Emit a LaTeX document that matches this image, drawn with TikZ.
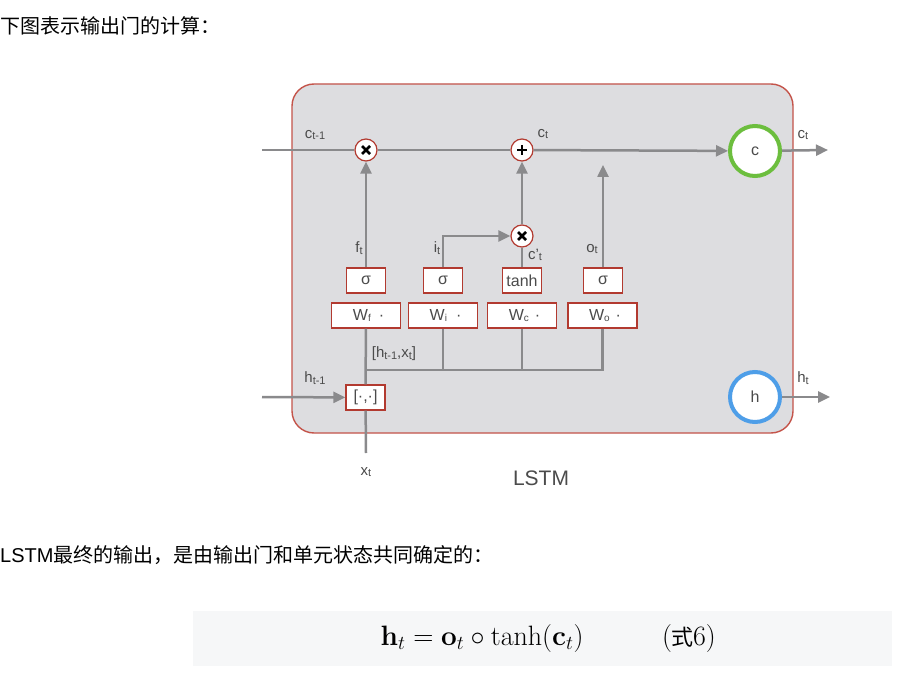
\RequirePackage{fix-cm}
\documentclass[tikz,border=0pt]{standalone}
\usepackage[no-math]{fontspec}
\setmainfont{Liberation Sans}
\newfontfamily\cjk{Noto Sans CJK SC}
\usetikzlibrary{arrows.meta}
\definecolor{bxfill}{RGB}{221,221,224}
\definecolor{bxline}{RGB}{196,84,74}
\definecolor{gline}{RGB}{138,138,140}
\definecolor{gate}{RGB}{178,58,48}
\definecolor{lbl}{RGB}{75,75,75}
\definecolor{grn}{RGB}{108,190,62}
\definecolor{blu}{RGB}{78,158,232}
\definecolor{eqbg}{RGB}{246,247,248}
\newcommand\lsub[1]{\raisebox{-1.5pt}{\fontsize{11}{11}\selectfont #1}}
\newcommand\wsub[1]{\raisebox{-1pt}{\fontsize{10}{10}\selectfont #1}}
\begin{document}
\begin{tikzpicture}[x=1pt,y=-1pt,
  conn/.style={draw=gline, line width=2.5pt},
  arr/.style={conn, -{Triangle[length=12pt,width=11pt]}},
  opc/.style={circle, draw=gate, line width=1.2pt, fill=white, minimum size=22pt, inner sep=0pt},
  sym/.style={line width=2.8pt, black},
  sbox/.style={draw=gate, line width=1.3pt, fill=white, minimum width=39pt, minimum height=25pt, inner sep=0pt, font=\fontsize{16}{16}\selectfont, text=lbl},
  wbox/.style={sbox, minimum width=69pt},
  state/.style={circle, line width=4pt, fill=white, minimum size=50pt, inner sep=0pt, font=\fontsize{16}{16}\selectfont, text=lbl},
  lab/.style={font=\fontsize{15}{15}\selectfont, text=lbl, inner sep=0pt},
  cjkline/.style={anchor=west, inner sep=0pt, font=\fontsize{20}{20}\selectfont},
  eqtext/.style={inner sep=0pt, font=\fontsize{28}{32}\selectfont},
]
\useasboundingbox (0,0) rectangle (905,695);
\fill[white] (0,0) rectangle (905,695);

% texts
\node[cjkline] (t1) at (0,26) {\cjk 下图表示输出门的计算：};
\node[cjkline] (t2) at (0,555) {LSTM{\cjk 最终的输出，是由输出门和单元状态共同确定的：}};

% equation
\fill[eqbg] (193,611) rectangle (892,666);
\node[eqtext] (eq) at (482,638) {$\mathbf{h}_t = \mathbf{o}_t \circ \tanh(\mathbf{c}_t)$};
\node[eqtext] (eqn) at (689,638) {$($\kern-1pt{\cjk\fontsize{22}{22}\selectfont 式}$6)$};

% main box
\draw[fill=bxfill, draw=bxline, line width=1.4pt, rounded corners=22pt] (292,84) rectangle (793,433);

% coordinates
\coordinate (cin) at (262,150);
\coordinate (cout) at (828,150);
\coordinate (hin) at (262,397);
\coordinate (hout) at (830,397);
\coordinate (xin) at (366,453);
\coordinate (oend) at (603,165);
\coordinate (busl) at (366,370);

% nodes
\node[opc] (mulf) at (366,150) {};
\node[opc] (add) at (522,150) {};
\node[opc] (muli) at (522,236) {};
\node[state, draw=grn] (cn) at (755,151) {c};
\node[state, draw=blu] (hn) at (755,397) {h};

\node[sbox] (sf) at (366,280.5) {σ};
\node[sbox] (si) at (443,280.5) {σ};
\node[sbox] (st) at (522,280.5) {tanh};
\node[sbox] (so) at (603,280.5) {σ};

\node[wbox] (wf) at (366,315.5) {\hspace{5pt}W\wsub{f}\hspace{8pt}·};
\node[wbox] (wi) at (443,315.5) {\hspace{5pt}W\wsub{i}\hspace{9pt}·};
\node[wbox] (wc) at (522,315.5) {\hspace{5pt}W\wsub{c}\hspace{6pt}·};
\node[wbox] (wo) at (602.5,315.5) {\hspace{5pt}W\wsub{o}\hspace{6pt}·};

\node[sbox] (cat) at (365.5,397.5) {[·,·]};

% connectors
\draw[conn] (cin) -- (mulf);
\draw[conn] (mulf) -- (add);
\draw[arr] (add) -- (cn);
\draw[arr] (cn) -- (cout);
\draw[arr] (sf) -- (mulf);
\draw[arr] (si) |- (muli);
\draw[conn] (st) -- (muli);
\draw[arr] (muli) -- (add);
\draw[arr] (so) -- (oend);
\draw[conn] (wf) -- (cat);
\draw[conn] (wo) |- (busl);
\draw[conn] (wi) -- (wi |- busl);
\draw[conn] (wc) -- (wc |- busl);
\draw[arr] (hin) -- (cat);
\draw[conn] (cat) -- (xin);
\draw[arr] (hn) -- (hout);

% operator symbols
\draw[sym] ([shift={(-4,-4)}]mulf.center) -- ([shift={(4,4)}]mulf.center);
\draw[sym] ([shift={(-4,4)}]mulf.center) -- ([shift={(4,-4)}]mulf.center);
\draw[sym] ([shift={(-4,-4)}]muli.center) -- ([shift={(4,4)}]muli.center);
\draw[sym] ([shift={(-4,4)}]muli.center) -- ([shift={(4,-4)}]muli.center);
\draw[sym] ([shift={(-5,0)}]add.center) -- ([shift={(5,0)}]add.center);
\draw[sym] ([shift={(0,-5)}]add.center) -- ([shift={(0,5)}]add.center);

% labels
\node[lab] (lc1) at (315,135) {c\lsub{t-1}};
\node[lab] (lc2) at (543,134) {c\lsub{t}};
\node[lab] (lc3) at (803,135) {c\lsub{t}};
\node[lab] (lf) at (359,248) {f\lsub{t}};
\node[lab] (li) at (437,248) {i\lsub{t}};
\node[lab] (lcp) at (535,255) {c'\lsub{t}};
\node[lab] (lo) at (592,249) {o\lsub{t}};
\node[lab] (lcat) at (394,354) {[h\lsub{t-1},x\lsub{t}]};
\node[lab] (lh1) at (315,378) {h\lsub{t-1}};
\node[lab] (lx) at (366,472) {x\lsub{t}};
\node[lab] (lh2) at (803,378) {h\lsub{t}};
\node[inner sep=0pt, font=\fontsize{21}{21}\selectfont, text=lbl] (lstm) at (541,478) {LSTM};
\end{tikzpicture}
\end{document}
